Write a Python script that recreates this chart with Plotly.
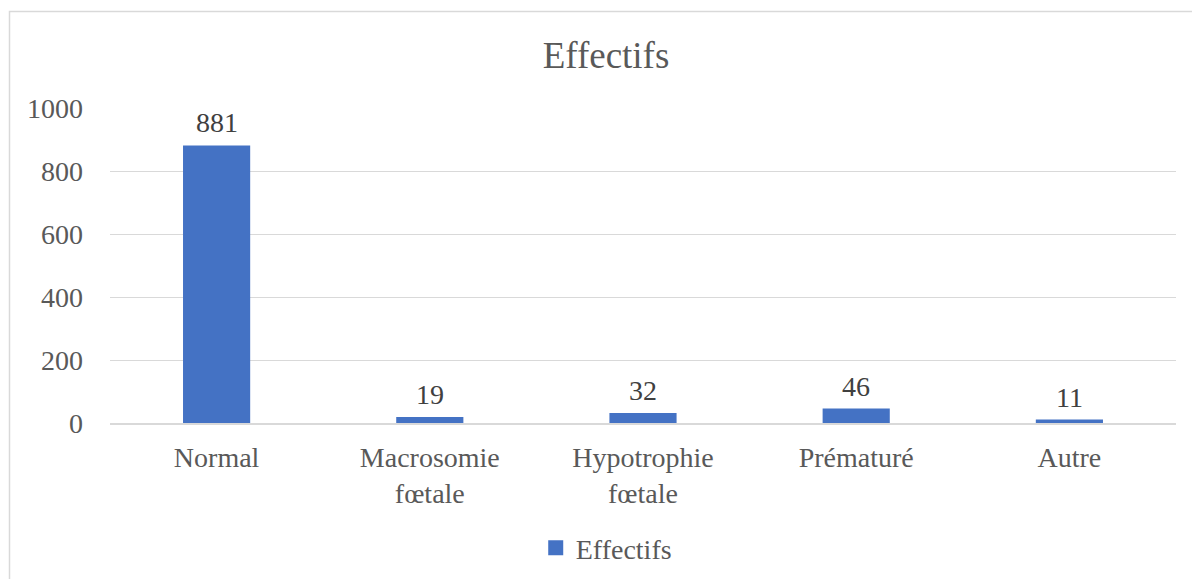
import plotly.graph_objects as go

categories = ["Normal", "Macrosomie<br>fœtale", "Hypotrophie<br>fœtale", "Prématuré", "Autre"]
values = [881, 19, 32, 46, 11]
series_name = "Effectifs"
y_ticks = [0, 200, 400, 600, 800, 1000]

FONT = "Liberation Serif, Times New Roman, serif"
W, H = 1192, 579
L, R, T, B = 110, 16, 108, 156
pw = W - L - R
ph = H - T - B

def px_to_paper_x(px):
    return (px - L) / pw

def py_to_paper_y(py):
    return (H - B - py) / ph

fig = go.Figure()
fig.add_trace(go.Bar(
    x=categories, y=values, name=series_name,
    marker=dict(color="#4472C4", line=dict(width=0)),
    showlegend=False,
))
# legend-only entry with a larger square swatch
fig.add_trace(go.Scatter(
    x=[None], y=[None], mode="markers", name=series_name,
    marker=dict(symbol="square", size=15, color="#4472C4"),
    showlegend=True,
))

annotations = [
    dict(x=c, y=v, xref="x", yref="y", text=str(v), showarrow=False,
         yanchor="bottom", yshift=5,
         font=dict(family=FONT, size=28, color="#404040"))
    for c, v in zip(categories, values)
]

fig.update_layout(
    width=W, height=H,
    margin=dict(l=L, r=R, t=T, b=B, autoexpand=False),
    paper_bgcolor="white", plot_bgcolor="white",
    bargap=0.685,
    title=dict(text="Effectifs", x=606 / W, xanchor="center",
               y=1 - 55 / H, yanchor="middle", yref="container",
               font=dict(family=FONT, size=37, color="#595959")),
    font=dict(family=FONT, size=28, color="#595959"),
    xaxis=dict(showgrid=False, showline=True, linecolor="#d9d9d9", linewidth=2,
               ticks="", automargin=False, ticklabelstandoff=8,
               tickfont=dict(family=FONT, size=28, color="#595959")),
    yaxis=dict(range=[0, 1000], tickvals=y_ticks, showgrid=True, gridcolor="#d9d9d9",
               gridwidth=1, zeroline=False, showline=False, ticks="", automargin=False,
               ticklabelstandoff=26,
               tickfont=dict(family=FONT, size=28, color="#595959")),
    legend=dict(orientation="h", x=0.4655, xanchor="center", y=py_to_paper_y(548),
                yanchor="middle", font=dict(family=FONT, size=28, color="#595959"),
                itemwidth=30),
    annotations=annotations,
    shapes=[dict(type="rect", xref="paper", yref="paper",
                 x0=px_to_paper_x(9.5), x1=px_to_paper_x(1205),
                 y0=py_to_paper_y(600), y1=py_to_paper_y(11.5),
                 line=dict(color="#d9d9d9", width=1.5), fillcolor="rgba(0,0,0,0)",
                 layer="below")],
)

fig.write_html("out.html")
